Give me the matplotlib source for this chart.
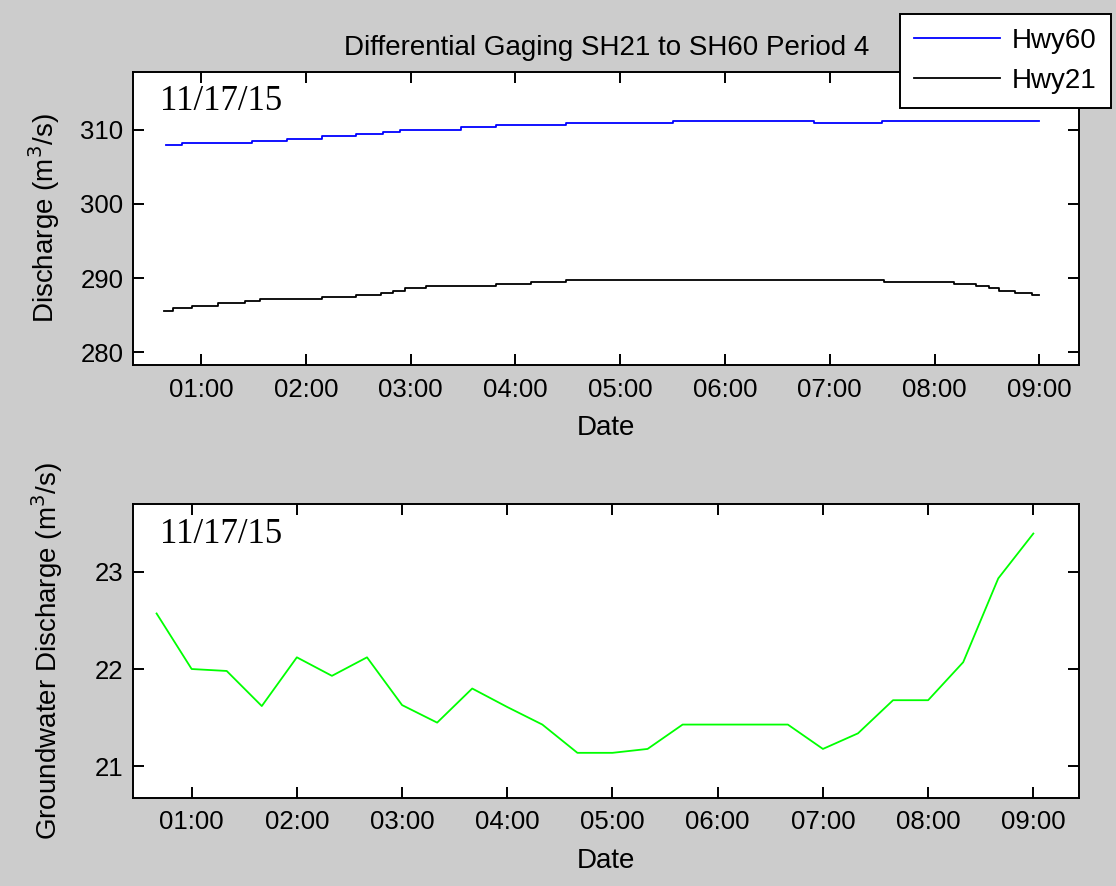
import pandas as pd
import matplotlib
matplotlib.use('Agg')
import matplotlib.pyplot as plt
import matplotlib.dates as mdates

plt.rcParams['font.family'] = ['Liberation Sans', 'DejaVu Sans']

day = '2015-11-17 '

# step changes (time, discharge m3/s)
hwy60_times = ['00:40', '00:49', '01:29', '01:49', '02:09', '02:29', '02:44', '02:54',
               '03:29', '03:49', '04:29', '05:30', '06:51', '07:30', '09:00']
hwy60_q = [307.93, 308.24, 308.56, 308.83, 309.15, 309.42, 309.69, 310.04,
           310.36, 310.63, 310.90, 311.22, 310.90, 311.22, 311.22]

hwy21_times = ['00:39', '00:44', '00:55', '01:10', '01:25', '01:34', '02:09', '02:29',
               '02:43', '02:50', '02:57', '03:09', '03:49', '04:09', '04:29', '07:31',
               '08:11', '08:24', '08:31', '08:37', '08:46', '08:56', '09:00']
hwy21_q = [285.58, 285.89, 286.26, 286.57, 286.84, 287.11, 287.43, 287.74,
           288.01, 288.28, 288.60, 288.96, 289.19, 289.50, 289.73, 289.41,
           289.14, 288.86, 288.60, 288.28, 287.97, 287.70, 287.70]

# groundwater discharge, every 20 minutes
gw_times = ['00:40', '01:00', '01:20', '01:40', '02:00', '02:20', '02:40', '03:00',
            '03:20', '03:40', '04:00', '04:20', '04:40', '05:00', '05:20', '05:40',
            '06:00', '06:20', '06:40', '07:00', '07:20', '07:40', '08:00', '08:20',
            '08:40', '09:00']
gw_q = [22.57, 22.00, 21.98, 21.62, 22.12, 21.93, 22.12, 21.63,
        21.45, 21.80, 21.61, 21.43, 21.14, 21.14, 21.18, 21.43,
        21.43, 21.43, 21.43, 21.18, 21.34, 21.68, 21.68, 22.07,
        22.93, 23.39]

hour_ticks = ['01:00', '02:00', '03:00', '04:00', '05:00', '06:00', '07:00', '08:00', '09:00']


def to_dt(times):
    return pd.to_datetime([day + t for t in times])


fs_tick = 18.5
fs_lab = 20
fig = plt.figure(figsize=(11.16, 8.86), dpi=100, facecolor='#cccccc')
ax1 = fig.add_axes([0.1194, 0.588, 0.8477, 0.3311])
ax2 = fig.add_axes([0.1194, 0.0997, 0.8477, 0.3311])

l60, = ax1.plot(to_dt(hwy60_times), hwy60_q, color='#0000ff', lw=1.3, drawstyle='steps-post')
l21, = ax1.plot(to_dt(hwy21_times), hwy21_q, color='black', lw=1.3, drawstyle='steps-post')
ax2.plot(to_dt(gw_times), gw_q, color='#00ff00', lw=1.3)

ax1.set_xlim(pd.Timestamp(day + '00:21:12'), pd.Timestamp(day + '09:22:54'))
ax2.set_xlim(pd.Timestamp(day + '00:26:42'), pd.Timestamp(day + '09:26:12'))
ax1.set_ylim(278.24, 317.88)
ax2.set_ylim(20.68, 23.69)
ax1.set_yticks([280, 290, 300, 310])
ax2.set_yticks([21, 22, 23])

for ax in (ax1, ax2):
    ax.set_facecolor('white')
    ax.set_xticks(to_dt(hour_ticks))
    ax.xaxis.set_major_formatter(mdates.DateFormatter('%H:%M'))
    ax.tick_params(direction='in', length=8, width=1.4, top=True, right=True,
                   labelsize=fs_tick)
    ax.tick_params(axis='x', pad=9)
    ax.tick_params(axis='y', pad=7)
    for sp in ax.spines.values():
        sp.set_linewidth(1.4)
    ax.set_xlabel('Date', fontsize=fs_lab, labelpad=10)
    ax.text(0.028, 0.955, '11/17/15', transform=ax.transAxes, ha='left', va='top',
            fontsize=25, family=['Liberation Serif', 'DejaVu Serif'])

ax1.set_ylabel('Discharge (m$^3$/s)', fontsize=fs_lab)
ax2.set_ylabel('Groundwater Discharge (m$^3$/s)', fontsize=fs_lab)
ax1.yaxis.set_label_coords(-0.0755, 0.5)
ax2.yaxis.set_label_coords(-0.0725, 0.5)
ax1.set_title('Differential Gaging SH21 to SH60 Period 4', fontsize=fs_lab, pad=12)

leg = fig.legend([l60, l21], ['Hwy60', 'Hwy21'], loc='upper left',
                 bbox_to_anchor=(900 / 1116, 1 - 14 / 886), borderaxespad=0,
                 fontsize=fs_lab, handlelength=3.1, handletextpad=0.43, labelspacing=0.5,
                 borderpad=0.5, fancybox=False, framealpha=1, edgecolor='black')
leg.get_frame().set_linewidth(1.4)

fig.savefig('out.png', dpi=100, facecolor=fig.get_facecolor())
